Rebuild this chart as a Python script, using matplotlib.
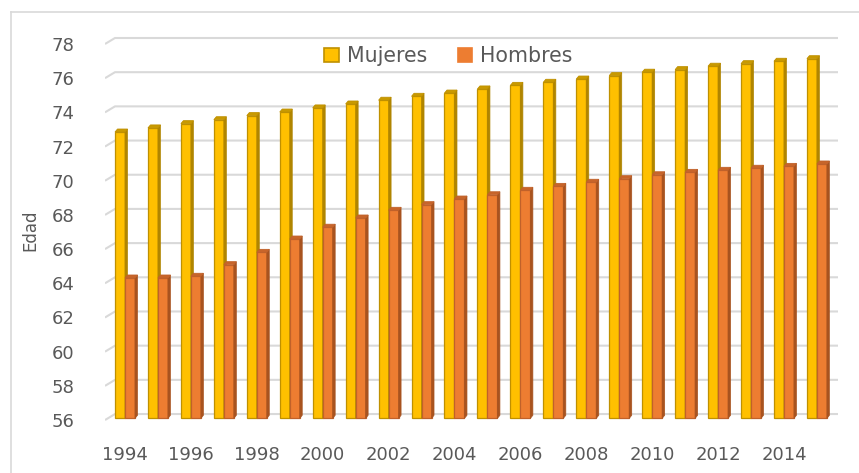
import numpy as np
import matplotlib
matplotlib.use("Agg")
import matplotlib.pyplot as plt
from matplotlib.patches import Polygon, Patch
from matplotlib.lines import Line2D

# ---- data ----
years = list(range(1994, 2016))
mujeres = [72.85, 73.09, 73.34, 73.57, 73.81, 74.02, 74.26, 74.49, 74.71, 74.94, 75.13,
           75.37, 75.58, 75.76, 75.95, 76.15, 76.35, 76.50, 76.70, 76.85, 76.99, 77.14]
hombres = [64.31, 64.31, 64.41, 65.09, 65.81, 66.59, 67.28, 67.82, 68.27, 68.60, 68.93,
           69.18, 69.44, 69.67, 69.91, 70.12, 70.35, 70.49, 70.61, 70.73, 70.84, 70.98]
series_names = ["Mujeres", "Hombres"]
yticks = list(range(56, 80, 2))
xtick_labels = [str(y) for y in years[::2]]

# ---- style ----
txt_color = "#595959"
grid_color = "#D9D9D9"
muj_front, muj_side, muj_top, muj_edge = "#FFC000", "#B08500", "#C99A00", "#BF9000"
hom_front, hom_side, hom_top, hom_edge = "#ED7D31", "#A8531F", "#C8652A", "#C0612A"

W, H = 859, 473
fig = plt.figure(figsize=(W / 100, H / 100), dpi=100)
ax = fig.add_axes([105 / W, 1 - 422.6 / H, 733 / W, (422.6 - 36.3) / H])
xl, xr = -0.607, 21.64
ax.set_xlim(xl, xr)
ax.set_ylim(55.85, 78.45)

# 3D depth offsets (data units)
wall_dx, wall_dy = 0.303, 0.351
bar_dx, bar_dy = 0.076, 0.175
w = 0.303
base = 56.1

# back-wall gridlines with slanted side-wall part
for v in yticks:
    ax.plot([xl, xl + wall_dx, xr], [v, v + wall_dy, v + wall_dy],
            color=grid_color, lw=1.5, zorder=1, solid_capstyle="butt")

x = np.arange(len(years))


def draw_bars(lefts, vals, front, side, top, edge, z):
    bars = ax.bar(lefts, np.array(vals) - base, bottom=base, width=w, align="edge",
                  color=front, edgecolor=edge, linewidth=0.9, zorder=z)
    for l, v in zip(lefts, vals):
        r = l + w
        ax.add_patch(Polygon([(r, base), (r + bar_dx, base + bar_dy), (r + bar_dx, v + bar_dy), (r, v)],
                             closed=True, facecolor=side, edgecolor=side, lw=0.5, zorder=z))
        ax.add_patch(Polygon([(l, v), (r, v), (r + bar_dx, v + bar_dy), (l + bar_dx, v + bar_dy)],
                             closed=True, facecolor=top, edgecolor=edge, lw=0.6, zorder=z))
    return bars


b1 = draw_bars(x - w, mujeres, muj_front, muj_side, muj_top, muj_edge, 2)
b2 = draw_bars(x + 0.0, hombres, hom_front, hom_side, hom_top, hom_edge, 3)

# axes styling
for s in ax.spines.values():
    s.set_visible(False)
ax.set_yticks(yticks)
ax.set_yticklabels([str(t) for t in yticks])
ax.set_xticks(x[::2])
ax.set_xticklabels(xtick_labels)
ax.tick_params(axis="y", length=0, pad=22, labelsize=13, labelcolor=txt_color)
ax.tick_params(axis="x", length=0, pad=17, labelsize=13, labelcolor=txt_color)

fig.text(30 / W, 1 - 230.5 / H, "Edad", rotation=90, ha="center", va="center",
         fontsize=12, color=txt_color)

handles = [Patch(facecolor=muj_front, edgecolor=muj_edge, linewidth=1.2),
           Patch(facecolor=hom_front, edgecolor=hom_front, linewidth=1.2)]
leg = ax.legend(handles, series_names, loc="center", bbox_to_anchor=(0.4686, 0.949),
                ncol=2, frameon=False, fontsize=14.8, handlelength=0.7, handleheight=0.7,
                handletextpad=0.4, columnspacing=1.5, borderaxespad=0)
for t in leg.get_texts():
    t.set_color(txt_color)

# outer chart border (top and left visible)
fig.add_artist(Line2D([10.5 / W, 1.0], [1 - 12 / H, 1 - 12 / H], transform=fig.transFigure,
                      color=grid_color, lw=1.2))
fig.add_artist(Line2D([10.5 / W, 10.5 / W], [0.0, 1 - 12 / H], transform=fig.transFigure,
                      color=grid_color, lw=1.2))

fig.savefig("out.png", dpi=100)
